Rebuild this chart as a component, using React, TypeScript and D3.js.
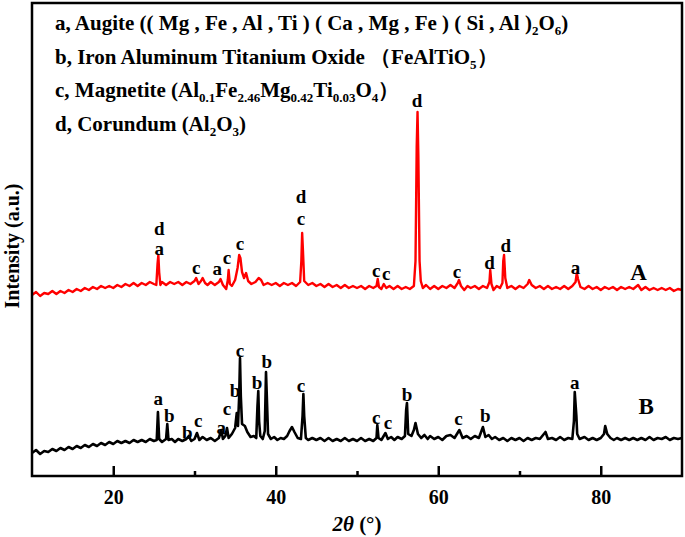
import { useEffect, useMemo, useRef } from "react";
import * as d3 from "d3";

const WIDTH = 685;
const HEIGHT = 537;
const MARGIN = { top: 3, right: 3, bottom: 61, left: 32 };

// 2θ (deg), intensity (a.u.)
const traceA: [number, number][] = [
  [10,181],[10.5,184],[11,180],[11.5,183],[12,182],[12.5,185],[13,182],[13.5,185],[14,183],[14.5,186],
  [15,184],[15.5,187],[16,185],[16.5,188],[17,186],[17.5,189],[18,187],[18.5,190],[19,188],[19.5,190],
  [20,188],[20.5,191],[21,189],[21.5,192],[22,190],[22.5,193],[23,190],[23.5,193],[24,191],[24.5,194],
  [25,192],[25.3,191],[25.45,212],[25.55,221],[25.65,204],[25.8,191],[26,194],[26.5,191],[27,194],[27.5,192],
  [28,194],[28.5,191],[29,194],[29.5,192],[30,195],[30.2,198],[30.5,192],[30.8,195],[31,198],[31.3,193],
  [31.6,191],[32,194],[32.5,191],[33,194],[33.2,197],[33.5,191],[33.9,187],[34.1,196],[34.2,206],[34.35,192],
  [34.6,190],[35,196],[35.3,208],[35.5,221],[35.65,218],[35.85,204],[36.1,198],[36.35,203],[36.6,195],[37,192],
  [37.5,194],[37.9,198],[38.2,196],[38.5,191],[39,193],[39.5,191],[40,193],[40.5,190],[41,193],[41.5,191],
  [42,193],[42.5,190],[43,194],[43.15,215],[43.25,243],[43.35,225],[43.5,195],[44,191],[44.5,193],[45,190],
  [45.5,192],[46,189],[46.5,192],[47,189],[47.5,191],[48,188],[48.5,191],[49,188],[49.5,190],[50,188],
  [50.5,190],[51,187],[51.5,190],[52,188],[52.4,190],[52.55,197],[52.7,189],[53,187],[53.3,192],[53.6,188],
  [54,190],[54.5,187],[55,190],[55.5,187],[56,189],[56.5,187],[57,190],[57.2,215],[57.35,330],[57.45,364],
  [57.55,320],[57.7,215],[57.85,195],[58.1,188],[58.5,191],[59,187],[59.5,190],[60,187],[60.5,190],[61,188],
  [61.5,191],[62,188],[62.4,193],[62.55,196],[62.8,190],[63.2,186],[63.6,190],[64,188],[64.5,190],[65,187],
  [65.5,190],[66,188],[66.3,194],[66.4,206],[66.55,192],[66.8,186],[67.2,190],[67.6,188],[67.9,193],[68,215],
  [68.1,221],[68.25,198],[68.5,188],[69,190],[69.5,187],[70,190],[70.5,188],[71,192],[71.2,196],[71.5,191],
  [72,188],[72.5,190],[73,187],[73.5,190],[74,187],[74.5,189],[75,187],[75.5,190],[76,187],[76.5,190],
  [76.9,194],[77.05,203],[77.2,197],[77.5,189],[78,187],[78.5,190],[79,187],[79.5,189],[80,186],[80.5,189],
  [81,187],[81.5,189],[82,186],[82.5,189],[83,187],[83.5,189],[84,187],[84.6,191],[85,186],[85.5,189],
  [86,186],[86.5,188],[87,186],[87.5,188],[88,186],[88.5,188],[89,185],[89.5,187],[90,186],
];

const traceB: [number, number][] = [
  [10,23],[10.5,26],[11,22],[11.5,25],[12,24],[12.5,27],[13,25],[13.5,28],[14,26],[14.5,29],
  [15,27],[15.5,30],[16,28],[16.5,31],[17,29],[17.5,32],[18,30],[18.5,33],[19,31],[19.5,34],
  [20,32],[20.5,35],[21,33],[21.5,35],[22,33],[22.5,36],[23,34],[23.5,36],[24,34],[24.5,37],
  [25,35],[25.35,36],[25.5,64],[25.65,37],[26,34],[26.5,37],[26.65,52],[26.8,36],[27.2,37],[27.6,34],
  [28,37],[28.5,35],[29,37],[29.3,40],[29.6,35],[30,37],[30.3,43],[30.6,36],[31,39],[31.5,36],
  [32,38],[32.5,35],[33,38],[33.3,46],[33.5,37],[33.8,40],[34,48],[34.2,38],[34.6,42],[35,48],
  [35.2,63],[35.35,50],[35.5,80],[35.6,118],[35.7,80],[35.85,52],[36.2,50],[36.5,44],[36.9,39],[37.3,40],
  [37.6,38],[37.75,70],[37.85,85],[37.95,55],[38.1,40],[38.4,37],[38.65,45],[38.8,104],[38.9,80],[39.05,42],
  [39.4,37],[39.8,39],[40.2,36],[40.6,38],[41,37],[41.4,40],[41.7,45],[42,49],[42.3,44],[42.7,38],
  [43.1,37],[43.3,60],[43.4,82],[43.5,60],[43.7,38],[44,36],[44.5,38],[45,36],[45.5,38],[46,35],
  [46.5,38],[47,35],[47.5,37],[48,35],[48.5,38],[49,35],[49.5,37],[50,35],[50.5,38],[51,35],
  [51.5,37],[52,35],[52.4,38],[52.5,51],[52.65,38],[53,36],[53.5,43],[53.8,37],[54.2,39],[54.6,36],
  [55,39],[55.5,37],[55.9,40],[56.05,66],[56.15,73],[56.3,42],[56.7,40],[57,46],[57.2,53],[57.5,42],
  [57.9,38],[58.3,41],[58.7,37],[59,40],[59.5,37],[60,39],[60.5,36],[61,40],[61.5,41],[62,38],
  [62.6,46],[63,38],[63.5,40],[64,37],[64.5,40],[65,38],[65.5,49],[65.8,39],[66.2,41],[66.6,37],
  [67,39],[67.5,36],[68,38],[68.5,35],[69,38],[69.5,36],[70,38],[70.5,35],[71,38],[71.5,36],
  [72,38],[72.5,37],[73.2,44],[73.5,37],[74,38],[74.5,36],[75,39],[75.5,36],[76,38],[76.5,37],
  [76.7,55],[76.8,84],[76.9,72],[77,60],[77.1,42],[77.4,37],[78,39],[78.5,36],[79,38],[79.5,36],
  [80,38],[80.4,42],[80.55,50],[80.8,42],[81.2,38],[81.6,36],[82,38],[82.5,36],[83,38],[83.5,36],
  [84,38],[84.5,36],[85,38],[85.5,36],[86,39],[86.5,36],[87,38],[87.5,37],[88,39],[88.5,36],
  [89,38],[89.5,37],[90,38],
];

// phase letters: [2θ, intensity, letter]
const labelsA: [number, number, string][] = [
  [25.67, 248, "d"], [25.67, 228, "a"], [30.2, 209, "c"], [32.8, 208, "a"], [34.0, 219, "c"],
  [35.6, 233, "c"], [43.1, 280, "d"], [43.1, 258, "c"], [52.35, 206, "c"], [53.6, 203, "c"],
  [57.4, 376, "d"], [62.3, 205, "c"], [66.3, 214, "d"], [68.3, 231, "d"], [76.9, 209, "a"],
];
const labelsB: [number, number, string][] = [
  [25.55, 78, "a"], [26.9, 61, "b"], [29.1, 44, "b"], [30.45, 56, "c"], [33.3, 49, "a"],
  [34.0, 68, "c"], [35.0, 86, "b"], [35.6, 126, "c"], [37.7, 94, "b"], [38.9, 115, "b"],
  [43.1, 91, "c"], [52.35, 59, "c"], [53.8, 54, "c"], [56.15, 82, "b"], [62.5, 58, "c"],
  [65.8, 61, "b"], [76.8, 94, "a"],
];
const sampleNames: [number, number, string][] = [
  [84.65, 204, "A"], [85.6, 70, "B"],
];

// legend lines: [text, subscript?]
const legendLines: [string, boolean][][] = [
  [["a, Augite (( Mg , Fe , Al , Ti ) ( Ca , Mg , Fe ) ( Si , Al )", false], ["2", true], ["O", false], ["6", true], [")", false]],
  [["b, Iron Aluminum Titanium Oxide （FeAlTiO", false], ["5", true], ["）", false]],
  [["c, Magnetite (Al", false], ["0.1", true], ["Fe", false], ["2.46", true], ["Mg", false], ["0.42", true], ["Ti", false], ["0.03", true], ["O", false], ["4", true], ["）", false]],
  [["d, Corundum (Al", false], ["2", true], ["O", false], ["3", true], [")", false]],
];

const majorTicks = [20, 40, 60, 80];
const minorTicks = [30, 50, 70];

const FONT = "'Liberation Serif', 'Times New Roman', serif";
const SUB_SHIFT = 5;

export default function App() {
  const axisRef = useRef<SVGGElement>(null);
  const minorRef = useRef<SVGGElement>(null);
  const boundsWidth = WIDTH - MARGIN.left - MARGIN.right;
  const boundsHeight = HEIGHT - MARGIN.top - MARGIN.bottom;

  const xScale = useMemo(
    () => d3.scaleLinear().domain([10, 90]).range([0, boundsWidth]),
    [boundsWidth]
  );
  const yScale = useMemo(
    () => d3.scaleLinear().domain([0, boundsHeight]).range([boundsHeight, 0]),
    [boundsHeight]
  );

  const line = d3
    .line<[number, number]>()
    .x((d) => xScale(d[0]))
    .y((d) => yScale(d[1]));

  useEffect(() => {
    const g = d3.select(axisRef.current);
    g.selectAll("*").remove();
    g.call(
      d3.axisBottom(xScale).tickValues(majorTicks).tickSize(-10).tickPadding(14).tickFormat(d3.format("d"))
    );
    g.select(".domain").remove();
    g.selectAll(".tick line").attr("stroke", "#000").attr("stroke-width", 2.5);
    g.selectAll(".tick text")
      .attr("font-family", FONT)
      .attr("font-weight", "bold")
      .attr("font-size", 20)
      .attr("fill", "#000");

    const m = d3.select(minorRef.current);
    m.selectAll("*").remove();
    m.call(d3.axisBottom(xScale).tickValues(minorTicks).tickSize(-5).tickFormat(() => ""));
    m.select(".domain").remove();
    m.selectAll(".tick line").attr("stroke", "#000").attr("stroke-width", 2.5);
  }, [xScale]);

  const renderLabels = (list: [number, number, string][], size: number) =>
    list.map(([x, y, t], i) => (
      <text
        key={i}
        x={xScale(x)}
        y={yScale(y)}
        textAnchor="middle"
        dominantBaseline="central"
        fontSize={size}
        fontWeight="bold"
        fontFamily={FONT}
      >
        {t}
      </text>
    ));

  const renderLegendLine = (segs: [string, boolean][]) => {
    let prevSub = false;
    return segs.map(([t, sub], i) => {
      const dy = sub && !prevSub ? SUB_SHIFT : !sub && prevSub ? -SUB_SHIFT : 0;
      prevSub = sub;
      return (
        <tspan key={i} dy={dy || undefined} fontSize={sub ? 13 : undefined}>
          {t}
        </tspan>
      );
    });
  };

  return (
    <svg
      width={WIDTH}
      height={HEIGHT}
      style={{ position: "absolute", left: 0, top: 0, background: "#fff" }}
    >
      <g transform={`translate(${MARGIN.left},${MARGIN.top})`}>
        <path d={line(traceA) ?? ""} fill="none" stroke="#ff0000" strokeWidth={2.4} strokeLinejoin="round" />
        <path d={line(traceB) ?? ""} fill="none" stroke="#000" strokeWidth={2.6} strokeLinejoin="round" />
        {renderLabels(labelsA, 19)}
        {renderLabels(labelsB, 19)}
        {renderLabels(sampleNames, 23)}

        <rect
          x={0}
          y={0}
          width={boundsWidth}
          height={boundsHeight}
          fill="none"
          stroke="#000"
          strokeWidth={2.5}
        />
        <g ref={axisRef} transform={`translate(0,${boundsHeight})`} />
        <g ref={minorRef} transform={`translate(0,${boundsHeight})`} />

        <g fontFamily={FONT} fontWeight="bold" fontSize={21}>
          {legendLines.map((segs, i) => (
            <text key={i} x={23} y={27 + i * 33.5}>
              {renderLegendLine(segs)}
            </text>
          ))}
        </g>

        <text
          x={boundsWidth / 2}
          y={boundsHeight + 55}
          textAnchor="middle"
          fontFamily={FONT}
          fontWeight="bold"
          fontSize={21}
        >
          <tspan fontStyle="italic">2θ</tspan> (°)
        </text>
      </g>
      <text
        transform={`translate(19,246) rotate(-90)`}
        textAnchor="middle"
        fontFamily={FONT}
        fontWeight="bold"
        fontSize={20}
      >
        Intensity (a.u.)
      </text>
    </svg>
  );
}
